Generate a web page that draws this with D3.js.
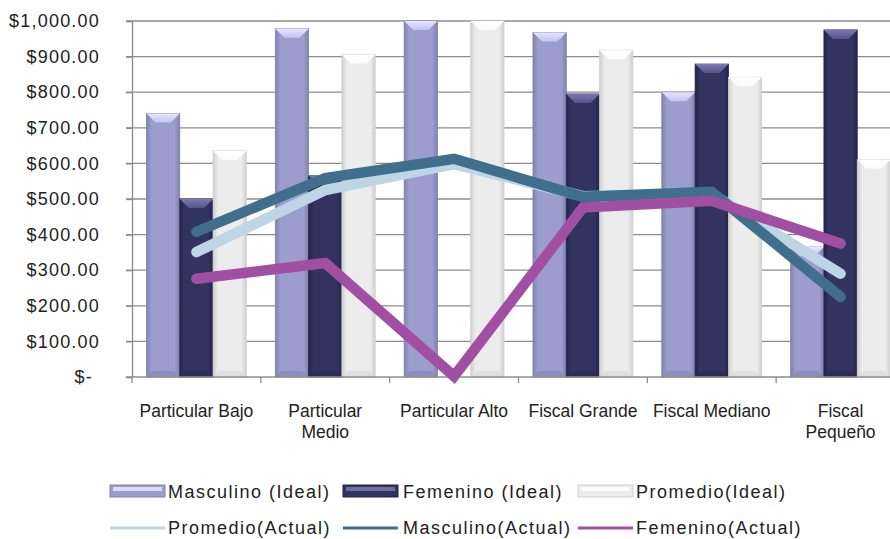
<!DOCTYPE html>
<html><head><meta charset="utf-8">
<script src="https://cdn.jsdelivr.net/npm/d3@7"></script>
<style>
html,body{margin:0;padding:0;background:#fff;}
svg{display:block;font-family:"Liberation Sans",Arial,sans-serif;}
</style></head>
<body>
<svg id="chart" width="890" height="539"></svg>
<script>
// ---- data ----
const categories = ["Particular Bajo","Particular\nMedio","Particular Alto","Fiscal Grande","Fiscal Mediano","Fiscal\nPequeño"];
const barSeriesNames = ["Masculino (Ideal)","Femenino (Ideal)","Promedio(Ideal)"];
const masculinoIdeal = [740, 978, 1000, 968, 800, 365];
const femeninoIdeal  = [500, 565, 0, 795, 879, 975];
const promedioIdeal  = [635, 905, 1000, 918, 842, 610];
const lineSeriesNames = ["Promedio(Actual)","Masculino(Actual)","Femenino(Actual)"];
const promedioActual  = [351, 525, 598, 508, 515, 290];
const masculinoActual = [408, 559, 613, 506, 520, 225];
const femeninoActual  = [276, 320, 2, 476, 495, 375];
const yTicks = [0,100,200,300,400,500,600,700,800,900,1000];

// ---- styles ----
const barStyles = [
  {base:"#9d9dcd", edge:"#8181b0", bevel:"#c3c3ee", hi:"#e6e6ff", bottom:"#8b8bb9"},
  {base:"#33335f", edge:"#23234a", bevel:"#55558a", hi:"#7a7ab0", bottom:"#2a2a52"},
  {base:"#ececec", edge:"#cfcfcf", bevel:"#fbfbfb", hi:"#ffffff", bottom:"#dcdcdc"}
];
const lineColors = ["#bdd5e5","#3f6f8c","#a14fa3"];

const svg = d3.select("#chart");
const defs = svg.append("defs");
barStyles.forEach((s,i)=>{
  const g = defs.append("linearGradient").attr("id","bg"+i).attr("x1","0").attr("x2","1").attr("y1","0").attr("y2","0");
  g.append("stop").attr("offset","0").attr("stop-color",s.edge);
  g.append("stop").attr("offset","0.15").attr("stop-color",s.base);
  g.append("stop").attr("offset","0.85").attr("stop-color",s.base);
  g.append("stop").attr("offset","1").attr("stop-color",s.edge);
  const t = defs.append("linearGradient").attr("id","tg"+i).attr("x1","0").attr("x2","0").attr("y1","0").attr("y2","1");
  t.append("stop").attr("offset","0").attr("stop-color",s.hi);
  t.append("stop").attr("offset","1").attr("stop-color",s.bevel);
});

const pLeft = 132, pRight = 905, pTop = 21, pBottom = 377;
const x = d3.scaleBand().domain(categories).range([pLeft,pRight]).paddingInner(0).paddingOuter(0);
const x1 = d3.scaleBand().domain(barSeriesNames).range([0,x.bandwidth()]).paddingInner(0).paddingOuter(0.435);
const y = d3.scaleLinear().domain([0,1000]).range([pBottom,pTop]);

// gridlines
const grid = svg.append("g");
grid.selectAll("line").data(yTicks.filter(d=>d>0)).join("line")
  .attr("x1",pLeft-6).attr("x2",pRight).attr("y1",d=>y(d)).attr("y2",d=>y(d))
  .attr("stroke","#8c8c8c").attr("stroke-width",1.3);

// y axis
const yAxis = svg.append("g").attr("transform",`translate(${pLeft},0)`)
  .call(d3.axisLeft(y).tickValues(yTicks).tickSize(6).tickPadding(26)
    .tickFormat(d=> d===0 ? "$-" : "$"+d3.format(",.2f")(d)));
yAxis.select(".domain").attr("stroke","#8c8c8c").attr("stroke-width",1.3);
yAxis.selectAll(".tick line").attr("stroke","#8c8c8c").attr("stroke-width",1.3);
yAxis.selectAll(".tick text").attr("font-size",18).attr("fill","#222").attr("letter-spacing","1.2px")
  .attr("font-family","'Liberation Sans',Arial,sans-serif");
yAxis.selectAll(".tick").filter(d=>d===0).select("text").attr("dx",-7);

// bars
const barData = [masculinoIdeal, femeninoIdeal, promedioIdeal];
const barsG = svg.append("g");
categories.forEach((c,ci)=>{
  barSeriesNames.forEach((s,si)=>{
    const v = barData[si][ci];
    if(!v) return;
    const bx = x(c)+x1(s), bw = x1.bandwidth(), by = y(v), bh = y(0)-y(v);
    const st = barStyles[si];
    const g = barsG.append("g");
    g.append("rect").attr("x",bx).attr("y",by).attr("width",bw).attr("height",bh)
      .attr("fill",`url(#bg${si})`).attr("stroke",st.edge).attr("stroke-width",0.8);
    const bev = 9;
    g.append("path").attr("d",`M${bx},${by} L${bx+bw},${by} L${bx+bw-bev},${by+bev} L${bx+bev},${by+bev} Z`)
      .attr("fill",`url(#tg${si})`);
    g.append("path").attr("d",`M${bx},${by+bh} L${bx+bw},${by+bh} L${bx+bw-6},${by+bh-6} L${bx+6},${by+bh-6} Z`)
      .attr("fill",st.bottom).attr("opacity",0.8);
  });
});

// x axis
const xAxisG = svg.append("g");
xAxisG.append("line").attr("x1",pLeft-6).attr("x2",pRight).attr("y1",pBottom).attr("y2",pBottom)
  .attr("stroke","#8c8c8c").attr("stroke-width",1.3);
const boundaries = categories.map(c=>x(c)).concat([pRight]);
xAxisG.selectAll("line.tk").data(boundaries).join("line").attr("class","tk")
  .attr("x1",d=>d).attr("x2",d=>d).attr("y1",pBottom).attr("y2",pBottom+6)
  .attr("stroke","#8c8c8c").attr("stroke-width",1.3);
const xl = xAxisG.selectAll("text").data(categories).join("text")
  .attr("x",d=>x(d)+x.bandwidth()/2).attr("y",417)
  .attr("text-anchor","middle").attr("font-size",17.5).attr("fill","#222");
xl.each(function(d){
  const parts = d.split("\n");
  const t = d3.select(this);
  parts.forEach((p,i)=>t.append("tspan").attr("x",x(d)+x.bandwidth()/2).attr("dy",i===0?0:20.5).text(p));
});

// lines
const lineData = [promedioActual, masculinoActual, femeninoActual];
const line = d3.line().x((d,i)=>x(categories[i])+x.bandwidth()/2).y(d=>y(d));
const linesG = svg.append("g");
lineData.forEach((arr,i)=>{
  linesG.append("path").attr("d",line(arr)).attr("fill","none")
    .attr("stroke",lineColors[i]).attr("stroke-width",10.5)
    .attr("stroke-linecap","round").attr("stroke-linejoin","miter").attr("stroke-miterlimit",4);
});

// legend
const legend = svg.append("g").attr("font-size",18).attr("fill","#222").attr("letter-spacing","1.5px");
const cols = [{sx:110, tx:168},{sx:343, tx:403},{sx:578, tx:636}];
barSeriesNames.forEach((s,i)=>{
  const st = barStyles[i];
  const sx = cols[i].sx, sw = 55, sy = 485, sh = 12;
  legend.append("rect").attr("x",sx).attr("y",sy).attr("width",sw).attr("height",sh)
    .attr("fill",st.base).attr("stroke",st.edge).attr("stroke-width",1);
  legend.append("rect").attr("x",sx+3).attr("y",sy+2).attr("width",sw-6).attr("height",4)
    .attr("fill",st.hi).attr("opacity",0.85);
  legend.append("text").attr("x",cols[i].tx).attr("y",498).text(s);
});
lineSeriesNames.forEach((s,i)=>{
  const sx = cols[i].sx;
  legend.append("line").attr("x1",sx).attr("x2",sx+55).attr("y1",528).attr("y2",528)
    .attr("stroke",lineColors[i]).attr("stroke-width",3);
  legend.append("text").attr("x",cols[i].tx).attr("y",534).text(s);
});
</script>
</body></html>
